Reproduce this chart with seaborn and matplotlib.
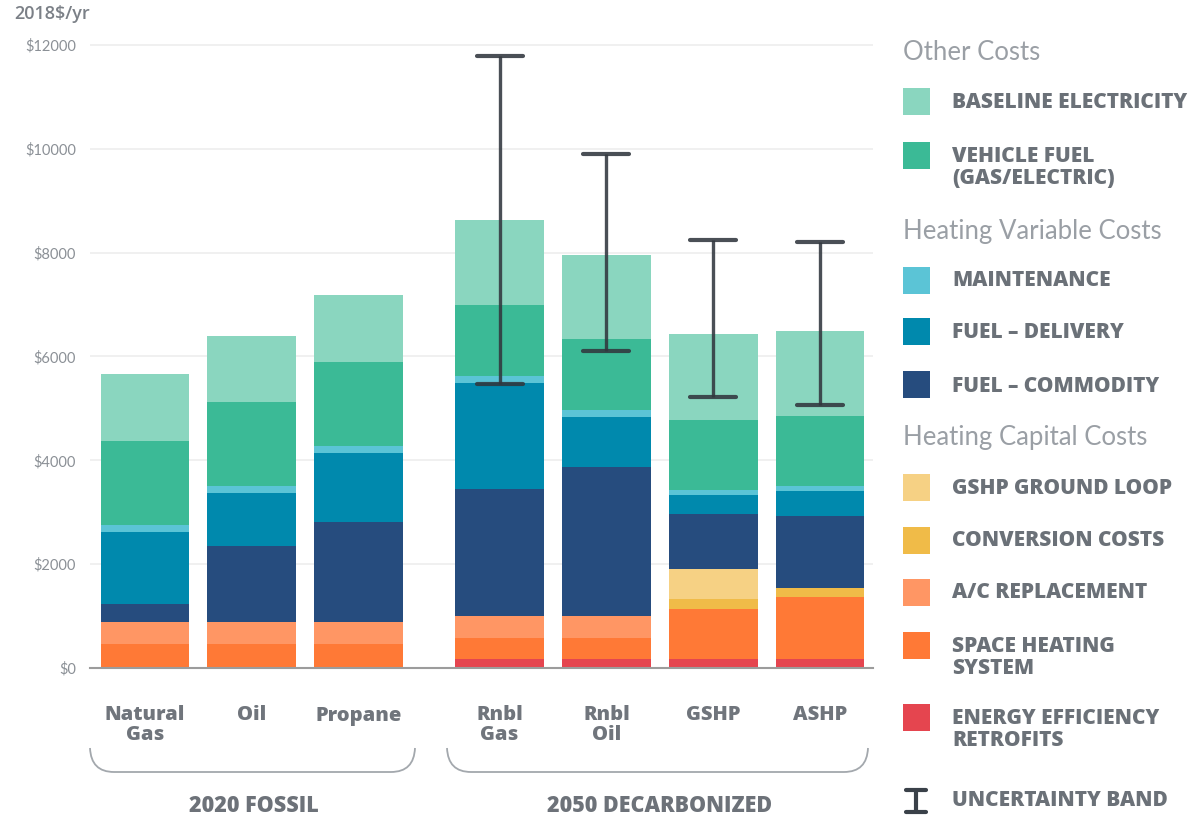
import numpy as np
import matplotlib
matplotlib.use("Agg")
import matplotlib.pyplot as plt
from matplotlib.patches import Rectangle, PathPatch
from matplotlib.path import Path
from matplotlib.lines import Line2D
import seaborn as sns

# --- data (2018$/yr) ---
categories = ["Natural\nGas", "Oil", "Propane", "Rnbl\nGas", "Rnbl\nOil", "GSHP", "ASHP"]
groups = ["2020 FOSSIL", "2050 DECARBONIZED"]
group_sizes = [3, 4]

energy_efficiency = [0, 0, 0, 170, 170, 170, 170]
space_heating = [470, 470, 470, 410, 410, 960, 1190]
ac_replacement = [420, 420, 420, 420, 420, 0, 0]
conversion = [0, 0, 0, 0, 0, 190, 190]
ground_loop = [0, 0, 0, 0, 0, 580, 0]
fuel_commodity = [340, 1450, 1930, 2440, 2880, 1060, 1370]
fuel_delivery = [1390, 1030, 1320, 2040, 950, 370, 480]
maintenance = [140, 140, 140, 150, 140, 100, 100]
vehicle_fuel = [1620, 1620, 1620, 1360, 1360, 1350, 1350]
baseline_elec = [1280, 1270, 1290, 1640, 1630, 1650, 1640]

unc_low = [np.nan, np.nan, np.nan, 5470, 6100, 5220, 5070]
unc_high = [np.nan, np.nan, np.nan, 11790, 9900, 8240, 8210]

# bottom -> top
layers = [
    ("ENERGY EFFICIENCY\nRETROFITS", energy_efficiency, "#E5454F"),
    ("SPACE HEATING\nSYSTEM", space_heating, "#FF7936"),
    ("A/C REPLACEMENT", ac_replacement, "#FF9664"),
    ("CONVERSION COSTS", conversion, "#F0BB48"),
    ("GSHP GROUND LOOP", ground_loop, "#F6D184"),
    ("FUEL \u2013 COMMODITY", fuel_commodity, "#264C7E"),
    ("FUEL \u2013 DELIVERY", fuel_delivery, "#0089AD"),
    ("MAINTENANCE", maintenance, "#5BC4D6"),
    ("VEHICLE FUEL\n(GAS/ELECTRIC)", vehicle_fuel, "#3BBA96"),
    ("BASELINE ELECTRICITY", baseline_elec, "#8AD6BF"),
]

sns.set_style("white")
plt.rcParams["font.family"] = ["Lato", "DejaVu Sans"]
BOLD = ["Open Sans", "DejaVu Sans"]

W, H = 1201, 816
fig = plt.figure(figsize=(W / 100, H / 100), dpi=100)


def fx(px):
    return px / W


def fy(py):
    return 1 - py / H


ax = fig.add_axes([fx(90), fy(668), fx(873) - fx(90), fy(35) - fy(668)])

# x positions: two groups with a wider gap between them
gap = 0.32
pos = []
start = 0.0
for n in group_sizes:
    pos += [start + i for i in range(n)]
    start = pos[-1] + 1 + gap
pos = np.array(pos)

# stacked bars: draw cumulative totals from the top layer down
cum = np.cumsum([np.array(v, dtype=float) for _, v, _ in layers], axis=0)
for i in range(len(layers) - 1, -1, -1):
    sns.barplot(x=pos, y=cum[i], native_scale=True, width=0.83, color=layers[i][2],
                saturation=1, errorbar=None, ax=ax, linewidth=0, zorder=2)

# uncertainty bands
ecol = "#31373e"
lo = np.array(unc_low)
hi = np.array(unc_high)
m = ~np.isnan(lo)
ax.vlines(pos[m], lo[m], hi[m], color=ecol, lw=2.4, alpha=0.88, zorder=4)
for yy in (lo[m], hi[m]):
    ax.hlines(yy, pos[m] - 0.215, pos[m] + 0.215, color=ecol, lw=3.0, alpha=0.88,
              capstyle="round", zorder=4)

ax.set_xlim(-0.514, pos[-1] + 0.495)
ax.set_ylim(0, 12190)
ax.set_yticks(range(0, 12001, 2000))
ax.set_yticklabels([f"${v}" for v in range(0, 12001, 2000)], color="#8b9096", fontsize=10.5)
ax.set_xticks(pos)
ax.set_xticklabels(categories, color="#70757c", fontsize=14.5, fontweight=800,
                   family=BOLD, linespacing=0.98)
ax.tick_params(axis="x", length=0, pad=27)
ax.tick_params(axis="y", length=0, pad=10)
ax.yaxis.grid(True, color="#eeeeee", lw=1.2)
ax.set_axisbelow(True)
for s in ["top", "right", "left"]:
    ax.spines[s].set_visible(False)
ax.spines["bottom"].set_color("#9c9c9c")
ax.spines["bottom"].set_linewidth(1.5)
ax.spines["bottom"].set_zorder(5)
ax.set_xlabel("")
ax.set_ylabel("")

fig.text(fx(14), fy(14), "2018$/yr", color="#7b8087", fontsize=13, fontweight="semibold",
         family=BOLD, ha="left", va="center")


# group braces
def brace(x0, x1, ytop, ybot, r=24):
    verts = [(x0, ytop), (x0 + 1, ybot), (x0 + r, ybot), (x0 + r, ybot),
             (x1 - r, ybot), (x1 - 1, ybot), (x1, ytop)]
    codes = [Path.MOVETO, Path.CURVE3, Path.CURVE3, Path.LINETO, Path.LINETO,
             Path.CURVE3, Path.CURVE3]
    verts = [(fx(a), fy(b)) for a, b in verts]
    fig.add_artist(PathPatch(Path(verts, codes), transform=fig.transFigure,
                             fill=False, edgecolor="#a3a8ad", lw=1.3))


brace(90, 415, 748, 772)
brace(447, 868, 748, 772)
fig.text(fx(254), fy(806), groups[0], color="#6d7279", fontsize=15.5, fontweight=800,
         family=BOLD, ha="center", va="center")
fig.text(fx(660), fy(806), groups[1], color="#6d7279", fontsize=15.5, fontweight=800,
         family=BOLD, ha="center", va="center")

# legend
lab_col = "#6b7178"
head_col = "#9a9fa5"
headers = [("Other Costs", 53), ("Heating Variable Costs", 231), ("Heating Capital Costs", 438)]
for t, yy in headers:
    fig.text(fx(903), fy(yy), t, color=head_col, fontsize=18.5, ha="left", va="center")

legend_y = {
    "BASELINE ELECTRICITY": 101,
    "VEHICLE FUEL\n(GAS/ELECTRIC)": 155,
    "MAINTENANCE": 280,
    "FUEL \u2013 DELIVERY": 332,
    "FUEL \u2013 COMMODITY": 385,
    "GSHP GROUND LOOP": 487,
    "CONVERSION COSTS": 540,
    "A/C REPLACEMENT": 592,
    "SPACE HEATING\nSYSTEM": 645,
    "ENERGY EFFICIENCY\nRETROFITS": 717,
}
sq = 27
for name, _, col in layers:
    yc = legend_y[name]
    fig.add_artist(Rectangle((fx(903), fy(yc + sq / 2)), sq / W, sq / H,
                             transform=fig.transFigure, facecolor=col, edgecolor="none"))
    for k, line in enumerate(name.split("\n")):
        fig.text(fx(952), fy(yc + 23 * k + 1), line, color=lab_col, fontsize=15,
                 fontweight=800, family=BOLD, ha="left", va="center")

# uncertainty band legend icon
for (xa, ya), (xb, yb) in [((916, 790), (916, 812)), ((906, 790), (926, 790)),
                           ((906, 812), (926, 812))]:
    fig.add_artist(Line2D([fx(xa), fx(xb)], [fy(ya), fy(yb)], transform=fig.transFigure,
                          color="#3a4149", lw=3, solid_capstyle="round"))
fig.text(fx(952), fy(801), "UNCERTAINTY BAND", color=lab_col, fontsize=15,
         fontweight=800, family=BOLD, ha="left", va="center")

fig.savefig("out.png", dpi=100)
